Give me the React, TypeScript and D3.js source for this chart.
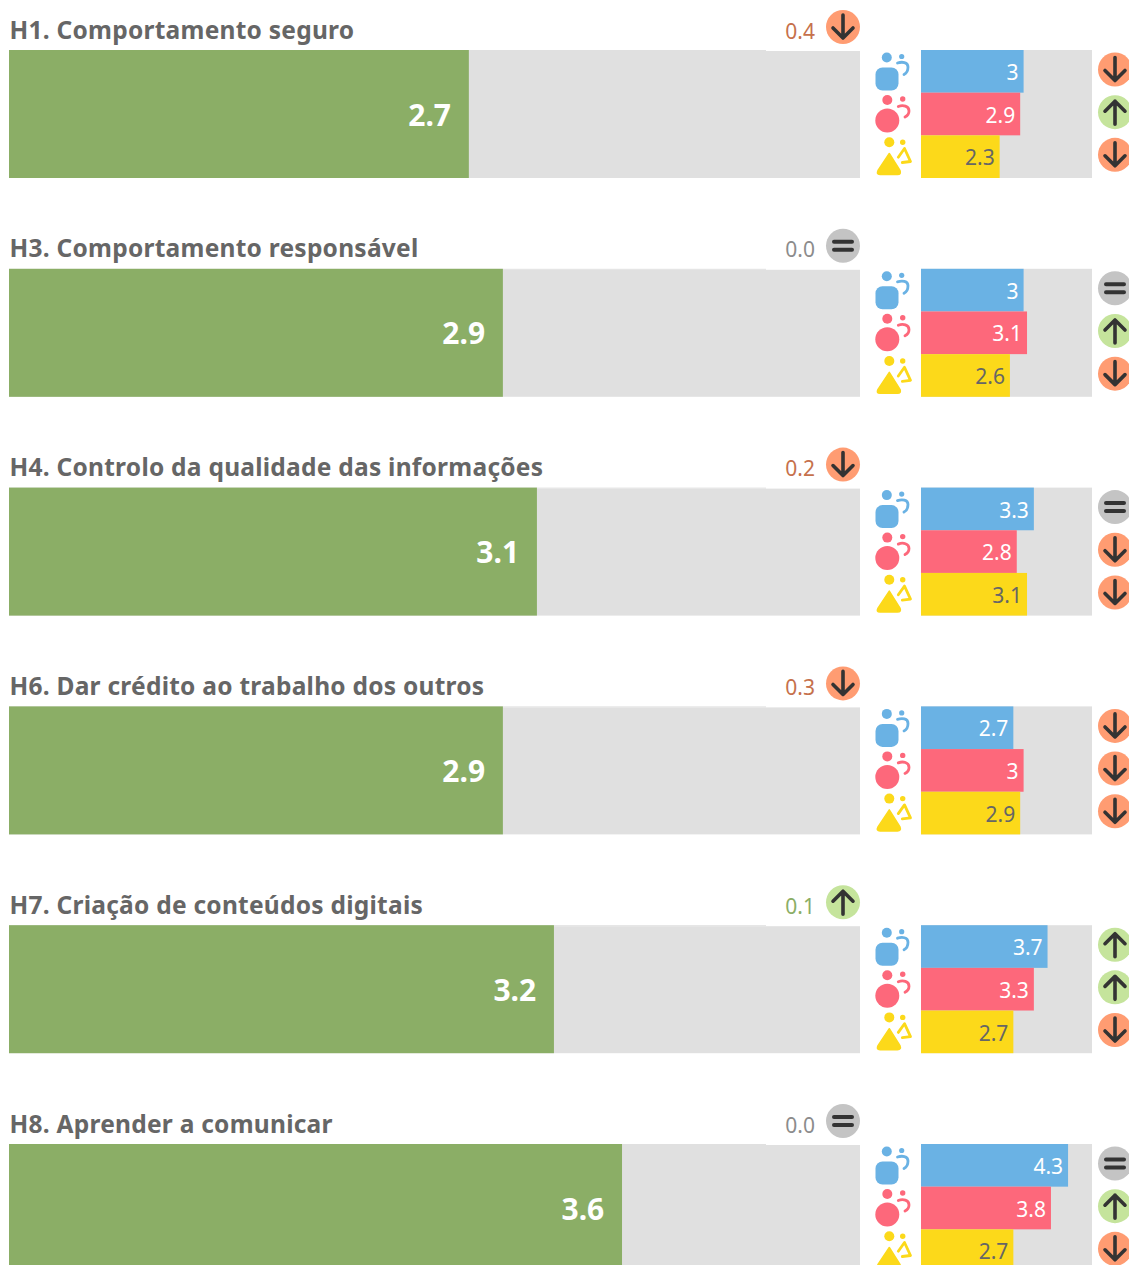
import React from "react";
import * as d3 from "d3";

const titles = ["H1. Comportamento seguro","H3. Comportamento responsável","H4. Controlo da qualidade das informações","H6. Dar crédito ao trabalho dos outros","H7. Criação de conteúdos digitais","H8. Aprender a comunicar"];
const overall = [2.7,2.9,3.1,2.9,3.2,3.6];
const gaps = ["0.4","0.0","0.2","0.3","0.1","0.0"];
const gapDirs = ["down","eq","down","down","up","eq"];
const boys = ["3","3","3.3","2.7","3.7","4.3"];
const girls = ["2.9","3.1","2.8","3","3.3","3.8"];
const others = ["2.3","2.6","3.1","2.9","2.7","2.7"];
const boysDirs = ["down","eq","eq","down","up","eq"];
const girlsDirs = ["up","up","down","down","up","up"];
const othersDirs = ["down","down","down","down","down","down"];

const W = 1129, H = 1265;
const rowY = d3.scaleLinear().domain([0,5]).range([50,1144]);
const xMain = d3.scaleLinear().domain([0,5]).range([9,860]);
const xSmall = d3.scaleLinear().domain([0,5]).range([921,1092]);
const FONT = "'Noto Sans', sans-serif";
const badgeFill: Record<string,string> = {down:"#ff9c72",up:"#c5e49c",eq:"#c4c4c4"};
const gapColor: Record<string,string> = {down:"#c6714c",up:"#8bae66",eq:"#8c8c8c"};

function Badge({cx,cy,dir}:{cx:number,cy:number,dir:string}){
  const s = {stroke:"#333",strokeWidth:3.6,fill:"none",strokeLinecap:"round" as const,strokeLinejoin:"round" as const};
  return <g transform={`translate(${cx},${cy})`}>
    <circle r={17} fill={badgeFill[dir]}/>
    {dir==="eq"&&<path d="M-9,-4H9M-9,4H9" {...s} strokeWidth={4}/>}
    {dir==="down"&&<path d="M0,-12V11M-10,1L0,11L10,1" {...s}/>}
    {dir==="up"&&<path d="M0,12V-11M-10,-1L0,-11L10,-1" {...s}/>}
  </g>;
}
function Arc({c,d}:{c:string,d:string}){
  return <path d={d} fill="none" stroke={c} strokeWidth={2.8} strokeLinecap="round" strokeLinejoin="round"/>;
}
function Icon({kind,y,c}:{kind:number,y:number,c:string}){
  return <g transform={`translate(876,${y})`} fill={c}>
    {kind===0&&<><circle cx={10.8} cy={5} r={5}/><circle cx={25.7} cy={4} r={2.6}/><rect x={-0.5} y={15} width={23} height={23} rx={7}/><Arc c={c} d="M21.5,10.5C26,9 32,9.5 32,14.5C32,18 30,21 28,22"/></>}
    {kind===1&&<><circle cx={11.3} cy={5} r={5}/><circle cx={26.7} cy={4} r={2.7}/><circle cx={11.3} cy={25.5} r={12}/><Arc c={c} d="M22.3,11.5C27,9.5 33,11 33,16C33,19 31,21 29,22"/></>}
    {kind===2&&<><circle cx={13.3} cy={4.7} r={5}/><circle cx={26.7} cy={4.7} r={2.7}/><path d="M13.3,16L24,33Q25.5,37 21.5,37L4,37Q0,37 2,33Z" stroke={c} strokeWidth={1.5} strokeLinejoin="round"/><Arc c={c} d="M22.3,19.7L28.5,11L34.5,24L26.3,25"/></>}
  </g>;
}

export default function App(){
  const series = [
    {vals:boys,dirs:boysDirs,color:"#6ab2e4",txt:"#ffffff"},
    {vals:girls,dirs:girlsDirs,color:"#fd687b",txt:"#ffffff"},
    {vals:others,dirs:othersDirs,color:"#fcd91a",txt:"#666666"},
  ];
  const iconY = [52.5,95,137.5];
  return <svg width={W} height={H} viewBox={`0 0 ${W} ${H}`} style={{position:"absolute",left:0,top:0,display:"block",background:"#fff"}} fontFamily={FONT}>
    {titles.map((t,i)=>{
      const y = rowY(i);
      return <g key={t}>
        <text x={9.5} y={y-11.5} fontSize={24.5} fontWeight={700} letterSpacing={0.25} fill="#666666">{t}</text>
        <rect x={xMain(0)} y={y+1} width={xMain(5)-xMain(0)} height={127} fill="#e0e0e0"/>
        <rect x={xMain(0)} y={y} width={766-xMain(0)} height={1} fill="#e0e0e0"/>
        <rect x={xMain(0)} y={y} width={xMain(overall[i])-xMain(0)+0.3} height={128} fill="#8bae66"/>
        <text x={xMain(overall[i])-17.5} y={y+75.5} textAnchor="end" fontSize={30} fontWeight={700} fill="#fff">{overall[i]}</text>
        <text x={815} y={y-11.5} textAnchor="end" fontSize={21} fill={gapColor[gapDirs[i]]}>{gaps[i]}</text>
        <Badge cx={843} cy={y-23} dir={gapDirs[i]}/>
        <rect x={xSmall(0)} y={y} width={xSmall(5)-xSmall(0)} height={128} fill="#e0e0e0"/>
        {series.map((s,k)=>{
          const h=128/3, yy=y+k*h, v=+s.vals[i];
          return <g key={k}>
            <rect x={xSmall(0)} y={yy} width={xSmall(v)-xSmall(0)} height={h} fill={s.color}/>
            <text x={xSmall(v)-5} y={yy+30} textAnchor="end" fontSize={21} fill={s.txt}>{s.vals[i]}</text>
            <Icon kind={k} y={y-50+iconY[k]} c={s.color}/>
            <Badge cx={1115} cy={yy+19.5} dir={s.dirs[i]}/>
          </g>;
        })}
      </g>;
    })}
  </svg>;
}
